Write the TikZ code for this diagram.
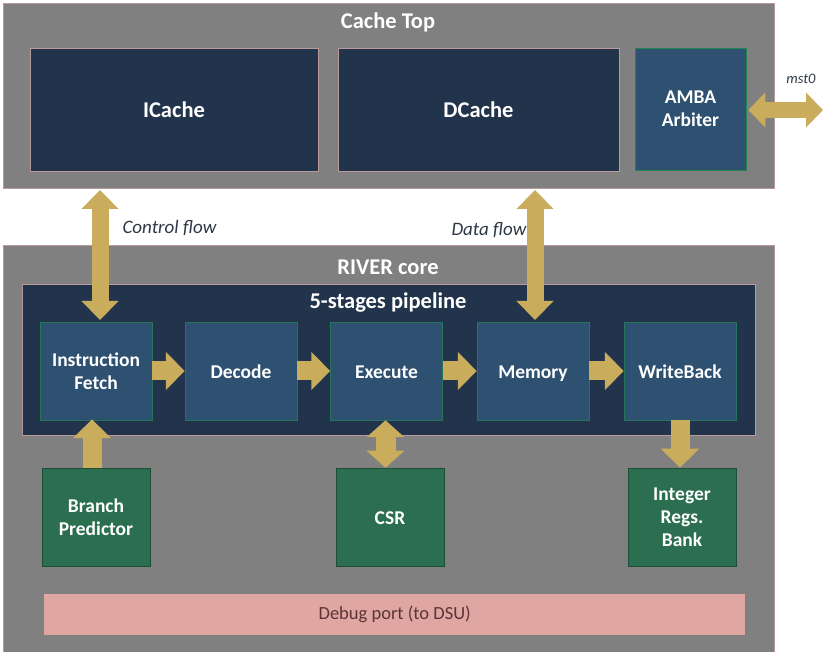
\documentclass[tikz,border=0pt]{standalone}
\usepackage{fontspec}
\setmainfont{Carlito}
\usetikzlibrary{arrows.meta}
\definecolor{grayb}{HTML}{808080}
\definecolor{edgeb}{HTML}{B89A9A}
\definecolor{navy}{HTML}{22344C}
\definecolor{stagec}{HTML}{2F5171}
\definecolor{greenb}{HTML}{2B6E50}
\definecolor{gold}{HTML}{C9AC5C}
\definecolor{pinkb}{HTML}{E0A6A2}
\definecolor{lbl}{HTML}{2E3846}
\definecolor{dbgtxt}{HTML}{5A3434}
\begin{document}
\begin{tikzpicture}[x=1pt,y=-1pt,
  outer/.style={draw=edgeb, line width=0.8pt, fill=grayb, anchor=north west},
  title/.style={text=white, font=\bfseries\fontsize{22.5}{26}\selectfont},
  cachebox/.style={draw=edgeb, line width=0.6pt, fill=navy, text=white, font=\bfseries\fontsize{22.5}{26}\selectfont, minimum height=123pt},
  stagebox/.style={fill=stagec, draw=stagec!80!green, line width=0.5pt, text=white, align=center, minimum width=112pt, minimum height=98pt, font=\bfseries\fontsize{19.5}{23}\selectfont},
  greenbox/.style={fill=greenb, draw=greenb!70!black, line width=0.5pt, text=white, align=center, minimum width=108pt, minimum height=98pt, font=\bfseries\fontsize{19.5}{23}\selectfont},
  oneline/.style={text height=14.6pt, text depth=0pt},
  flowlbl/.style={text=lbl, font=\itshape\fontsize{19}{22}\selectfont},
  bigarrow/.style={draw=gold, line width=17pt, {Triangle[width=36pt,length=19pt]}-{Triangle[width=36pt,length=19pt]}},
  onearrow/.style={draw=gold, line width=19pt, -{Triangle[width=37pt,length=19pt]}},
]
\useasboundingbox (0,0) rectangle (823,652);
\fill[white] (0,0) rectangle (823,652);

% Cache Top
\node[outer, minimum width=771pt, minimum height=185pt] (cachetop) at (3,3) {};
\node[title] (cachetitle) at (388,22) {Cache Top};
\node[cachebox, minimum width=288pt] (icache) at (174,109.5) {ICache};
\node[cachebox, minimum width=281pt] (dcache) at (478.5,109.5) {DCache};
\node[cachebox, fill=stagec, draw=stagec!70!green, minimum width=111pt, minimum height=122pt, align=center, font=\bfseries\fontsize{19.5}{23}\selectfont] (amba) at (690.5,109) {AMBA\\Arbiter};

% RIVER core
\node[outer, minimum width=771pt, minimum height=410pt] (river) at (3,245) {};
\node[title] (rivertitle) at (388,267) {RIVER core};
\node[draw=edgeb, line width=0.6pt, fill=navy, anchor=north west, minimum width=733pt, minimum height=151pt] (pipe) at (22,284) {};
\node[title] (pipetitle) at (388,303) {5-stages pipeline};

\node[stagebox] (fetch) at (96,371) {Instruction\\Fetch};
\node[stagebox, oneline] (decode) at (241,371) {Decode};
\node[stagebox, oneline] (execute) at (386.5,371) {Execute};
\node[stagebox, oneline] (memory) at (533,371) {Memory};
\node[stagebox, oneline] (wb) at (680,371) {WriteBack};

\node[greenbox] (bp) at (96,517) {Branch\\Predictor};
\node[greenbox, oneline] (csr) at (390,517) {CSR};
\node[greenbox] (irb) at (682,517) {Integer\\Regs.\\Bank};

\node[fill=pinkb, anchor=north west, minimum width=701pt, minimum height=41pt, text=dbgtxt, font=\fontsize{18.5}{22}\selectfont] (debug) at (44,594) {Debug port (to DSU)};

% connectors
\coordinate (ctop) at (100,190);
\coordinate (cbot) at (100,320);
\draw[bigarrow] (ctop) -- (cbot);
\node[flowlbl, anchor=west] (cflbl) at (119,228) {Control flow};

\coordinate (dtop) at (535,190);
\coordinate (dbot) at (535,320);
\draw[bigarrow] (dtop) -- (dbot);
\node[flowlbl, anchor=east] (dflbl) at (530,230) {Data flow};

\coordinate (mstend) at (823,110);
\draw[bigarrow, line width=16pt, {Triangle[width=34pt,length=17pt]}-{Triangle[width=34pt,length=17pt]}] (amba.east |- mstend) ++(2,0) coordinate (ambaR) (ambaR) -- (mstend);
\node[flowlbl, font=\itshape\fontsize{14.5}{17}\selectfont] (mstlbl) at (801,79) {mst0};

\draw[onearrow] (fetch.east) -- (decode.west);
\draw[onearrow] (decode.east) -- (execute.west);
\draw[onearrow] (execute.east) -- (memory.west);
\draw[onearrow] (memory.east) -- (wb.west);

\draw[onearrow] (bp.north -| 92,0) coordinate (bpn) (bpn) -- ([yshift=1pt]bpn |- fetch.south);
\draw[bigarrow, line width=20pt, {Triangle[width=37pt,length=17pt]}-{Triangle[width=37pt,length=17pt]}] ([xshift=-1pt]execute.south) -- ([xshift=-1pt]execute.south |- csr.north);
\draw[onearrow] (wb.south) -- (wb.south |- irb.north);
\end{tikzpicture}
\end{document}
